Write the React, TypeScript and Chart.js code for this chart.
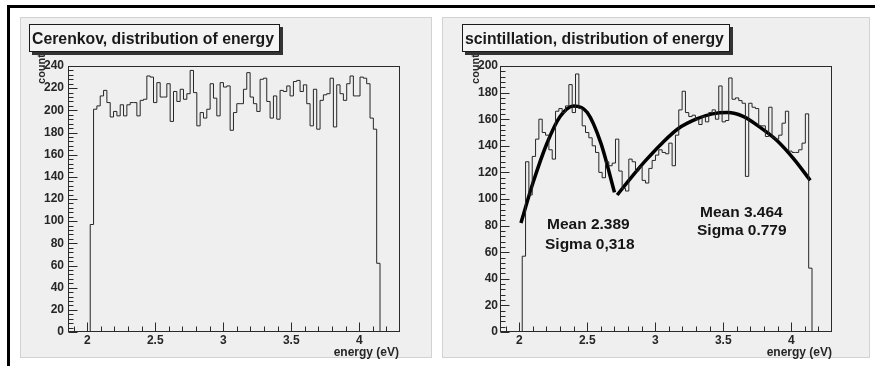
import React, { useEffect, useRef } from "react";
import { Chart, registerables } from "chart.js";

Chart.register(...registerables);

const FONT = "'Liberation Sans', Arial, Helvetica, sans-serif";

// Histogram binning (eV)
const X_MIN = 1.858;
const X_MAX = 4.3;
const BIN_START = 2.0215;
const BIN_WIDTH = 0.0245;

// Tick values
const xMajorTicks = [2, 2.5, 3, 3.5, 4];
const xMinorTicks = [1.9, 2.1, 2.2, 2.3, 2.4, 2.6, 2.7, 2.8, 2.9, 3.1, 3.2, 3.3, 3.4, 3.6, 3.7, 3.8, 3.9, 4.1, 4.2];
const leftYTicks = [0, 20, 40, 60, 80, 100, 120, 140, 160, 180, 200, 220, 240];
const rightYTicks = [0, 20, 40, 60, 80, 100, 120, 140, 160, 180, 200];

// Cerenkov histogram counts (bins starting at BIN_START)
const cerenkovCounts = [
  97, 201, 204, 213, 218, 207, 194, 199, 195, 205,
  195, 205, 207, 207, 195, 209, 210, 231, 230, 207,
  225, 212, 212, 224, 190, 217, 208, 219, 210, 215,
  236, 216, 186, 198, 193, 201, 224, 211, 195, 225,
  221, 222, 182, 198, 206, 206, 219, 234, 212, 206,
  199, 228, 229, 208, 193, 213, 192, 218, 217, 222,
  213, 226, 227, 217, 223, 206, 186, 219, 183, 209,
  214, 215, 229, 185, 223, 215, 209, 224, 231, 213,
  213, 230, 229, 224, 193, 183, 62,
];

// Scintillation histogram counts
const scintCounts = [
  57, 128, 103, 132, 145, 160, 150, 148, 137, 130,
  166, 168, 165, 170, 186, 165, 194, 168, 155, 150,
  146, 140, 135, 120, 116, 128, 125, 127, 145, 121,
  108, 106, 130, 128, 121, 124, 114, 112, 123, 129,
  133, 137, 135, 134, 142, 125, 148, 167, 181, 165,
  162, 163, 160, 156, 162, 158, 165, 167, 160, 185,
  158, 159, 191, 175, 176, 174, 172, 117, 172, 169,
  168, 155, 155, 147, 169, 146, 145, 148, 157, 166,
  136, 135, 135, 137, 142, 164, 48,
];

// Fit curves
const fit1Energy = [2.012, 2.1, 2.2, 2.3, 2.4, 2.5, 2.6, 2.7];
const fit1Count = [82, 112, 141, 162, 170, 165, 142, 105];
const fit2Energy = [2.72, 2.83, 2.93, 3.05, 3.17, 3.3, 3.42, 3.53, 3.65, 3.77, 3.895, 4.02, 4.14];
const fit2Count = [103, 117, 129, 142, 153, 160, 164, 165, 162, 154, 144, 130, 114];

function histPoints(counts: number[]) {
  const pts = [{ x: X_MIN, y: 0 }];
  counts.forEach((c, i) => pts.push({ x: BIN_START + i * BIN_WIDTH, y: c }));
  pts.push({ x: BIN_START + counts.length * BIN_WIDTH, y: 0 });
  pts.push({ x: X_MAX, y: 0 });
  return pts;
}

const frameTicksPlugin = {
  id: "frameTicks",
  afterDatasetsDraw(chart: any) {
    const { ctx, chartArea: a, scales } = chart;
    const xs = scales.x;
    const ys = scales.y;
    const yMax = ys.max;
    ctx.save();
    ctx.strokeStyle = "#2a2a2a";
    ctx.lineWidth = 1;
    const L = Math.round(a.left) + 0.5;
    const R = Math.round(a.right) - 0.5;
    const T = Math.round(a.top) + 0.5;
    const B = Math.round(a.bottom) - 0.5;
    ctx.strokeRect(L, T, R - L, B - T);
    ctx.beginPath();
    const xTick = (v: number, len: number) => {
      const px = Math.round(xs.getPixelForValue(v)) + 0.5;
      ctx.moveTo(px, B);
      ctx.lineTo(px, B - len);
    };
    xMajorTicks.forEach((v) => xTick(v, 9));
    xMinorTicks.forEach((v) => xTick(v, 5));
    for (let v = 0; v <= yMax + 0.001; v += 4) {
      const py = Math.round(ys.getPixelForValue(v)) + 0.5;
      const len = v % 20 === 0 ? 9 : 5;
      ctx.moveTo(L, py);
      ctx.lineTo(L + len, py);
    }
    ctx.stroke();
    ctx.restore();
  },
};

type PanelSpec = {
  counts: number[];
  fits: { e: number[]; v: number[] }[];
  yMax: number;
  yTicks: number[];
  axisWidth: number;
  padRight: number;
  yPad: number;
};

function makeConfig(p: PanelSpec): any {
  const datasets: any[] = [
    {
      data: histPoints(p.counts),
      borderColor: "#262626",
      borderWidth: 1,
      stepped: "before",
      pointRadius: 0,
      fill: false,
    },
  ];
  p.fits.forEach((f) =>
    datasets.push({
      data: f.e.map((e, i) => ({ x: e, y: f.v[i] })),
      borderColor: "#000",
      borderWidth: 3.5,
      pointRadius: 0,
      cubicInterpolationMode: "monotone",
      fill: false,
    })
  );
  const tickFont = { family: FONT, size: 12, weight: "bold" };
  return {
    type: "line",
    data: { datasets },
    options: {
      animation: false,
      responsive: false,
      events: [],
      layout: { padding: { left: 0, top: 49, right: p.padRight, bottom: 0 } },
      plugins: { legend: { display: false }, tooltip: { enabled: false } },
      scales: {
        x: {
          type: "linear",
          min: X_MIN,
          max: X_MAX,
          grid: { display: false, drawTicks: false },
          border: { display: false },
          afterBuildTicks: (s: any) => {
            s.ticks = xMajorTicks.map((v) => ({ value: v }));
          },
          afterFit: (s: any) => {
            s.height = 25;
          },
          ticks: {
            padding: 1,
            autoSkip: false,
            maxRotation: 0,
            color: "#262626",
            font: tickFont,
            callback: (v: any) => String(v),
          },
        },
        y: {
          type: "linear",
          min: 0,
          max: p.yMax,
          grid: { display: false, drawTicks: false },
          border: { display: false },
          afterBuildTicks: (s: any) => {
            s.ticks = p.yTicks.map((v) => ({ value: v }));
          },
          afterFit: (s: any) => {
            s.width = p.axisWidth;
          },
          ticks: {
            padding: p.yPad,
            autoSkip: false,
            color: "#262626",
            font: tickFont,
            callback: (v: any) => String(v),
          },
        },
      },
    },
    plugins: [frameTicksPlugin],
  };
}

function ChartCanvas({ spec, left, top, width, height }: { spec: PanelSpec; left: number; top: number; width: number; height: number }) {
  const ref = useRef<HTMLCanvasElement>(null);
  useEffect(() => {
    const chart = new Chart(ref.current as HTMLCanvasElement, makeConfig(spec));
    return () => chart.destroy();
  }, []);
  return (
    <canvas
      ref={ref}
      width={width}
      height={height}
      style={{ position: "absolute", left, top, width, height }}
    />
  );
}

const abs = (o: any) => ({ position: "absolute" as const, ...o });

function TitleBox({ left, width, text }: { left: number; width: number; text: string }) {
  return (
    <div
      style={abs({
        left,
        top: 24,
        width,
        height: 28,
        boxSizing: "border-box",
        border: "1px solid #1a1a1a",
        background: "#f4f4f4",
        boxShadow: "3px 3px 0 #333",
        font: `bold 15.8px ${FONT}`,
        color: "#1a1a1a",
        lineHeight: "26px",
        paddingLeft: 2,
        paddingTop: 1,
        whiteSpace: "nowrap",
      })}
    >
      {text}
    </div>
  );
}

function CountLabel({ cx }: { cx: number }) {
  return (
    <div
      style={abs({
        left: cx,
        top: 69,
        transform: "translate(-50%, -50%) rotate(-90deg)",
        font: `bold 11px ${FONT}`,
        color: "#2a2a2a",
        whiteSpace: "nowrap",
        lineHeight: "12px",
      })}
    >
      count
    </div>
  );
}

function EnergyLabel({ right }: { right: number }) {
  return (
    <div
      style={abs({
        left: right - 200,
        width: 200,
        top: 345,
        textAlign: "right",
        font: `bold 12px ${FONT}`,
        color: "#262626",
        lineHeight: "15px",
        whiteSpace: "nowrap",
      })}
    >
      energy (eV)
    </div>
  );
}

function Note({ left, top, text }: { left: number; top: number; text: string }) {
  return (
    <div
      style={abs({
        left,
        top,
        font: `bold 15.5px ${FONT}`,
        color: "#151515",
        lineHeight: "18px",
        whiteSpace: "nowrap",
      })}
    >
      {text}
    </div>
  );
}

const leftSpec: PanelSpec = {
  counts: cerenkovCounts,
  fits: [],
  yMax: 240,
  yTicks: leftYTicks,
  axisWidth: 48,
  padRight: 32,
  yPad: 4,
};

const rightSpec: PanelSpec = {
  counts: scintCounts,
  fits: [
    { e: fit1Energy, v: fit1Count },
    { e: fit2Energy, v: fit2Count },
  ],
  yMax: 200,
  yTicks: rightYTicks,
  axisWidth: 58,
  padRight: 38,
  yPad: 2,
};

export default function App() {
  return (
    <div
      style={{
        position: "fixed",
        left: 0,
        top: 0,
        width: 875,
        height: 366,
        overflow: "hidden",
        background: "#fff",
      }}
    >
      <div
        style={abs({
          left: 7,
          top: 5,
          width: 900,
          height: 400,
          borderTop: "3px solid #000",
          borderLeft: "3px solid #000",
        })}
      />
      <div
        style={abs({
          left: 20,
          top: 17,
          width: 412,
          height: 341,
          boxSizing: "border-box",
          background: "#efefef",
          border: "1px solid #d2d2d2",
        })}
      />
      <div
        style={abs({
          left: 442,
          top: 17,
          width: 428,
          height: 341,
          boxSizing: "border-box",
          background: "#efefef",
          border: "1px solid #d2d2d2",
        })}
      />
      <ChartCanvas spec={leftSpec} left={20} top={17} width={412} height={340} />
      <ChartCanvas spec={rightSpec} left={442} top={17} width={428} height={340} />
      <CountLabel cx={41} />
      <CountLabel cx={474.5} />
      <TitleBox left={29} width={251} text="Cerenkov, distribution of energy" />
      <TitleBox left={462} width={268} text="scintillation, distribution of energy" />
      <EnergyLabel right={399} />
      <EnergyLabel right={832} />
      <Note left={547} top={214.7} text="Mean 2.389" />
      <Note left={545} top={235} text="Sigma 0,318" />
      <Note left={700} top={202.7} text="Mean 3.464" />
      <Note left={697} top={220.7} text="Sigma 0.779" />
    </div>
  );
}
